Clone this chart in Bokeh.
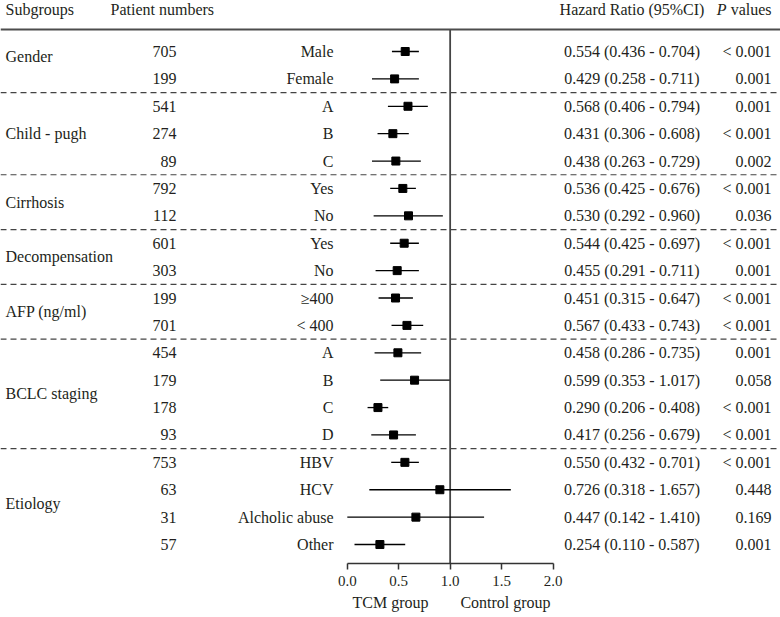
from bokeh.plotting import figure
from bokeh.models import Range1d, Span, FixedTicker, NumeralTickFormatter, ColumnDataSource
from bokeh.layouts import column
from bokeh.core.properties import value
from bokeh.embed import file_html
from bokeh.resources import INLINE

# ---------------- data ----------------
groups = ["Gender", "Child - pugh", "Cirrhosis", "Decompensation", "AFP (ng/ml)", "BCLC staging", "Etiology"]
group_sizes = [2, 3, 2, 2, 2, 4, 4]
group_label_rows = [0.2, 3, 5.5, 7.5, 9.5, 12.5, 16.5]

sub_labels = ["Male", "Female", "A", "B", "C", "Yes", "No", "Yes", "No", "≥400", "< 400",
              "A", "B", "C", "D", "HBV", "HCV", "Alcholic abuse", "Other"]
patients = [705, 199, 541, 274, 89, 792, 112, 601, 303, 199, 701, 454, 179, 178, 93, 753, 63, 31, 57]
hr_text = ["0.554 (0.436 - 0.704)", "0.429 (0.258 - 0.711)", "0.568 (0.406 - 0.794)",
           "0.431 (0.306 - 0.608)", "0.438 (0.263 - 0.729)", "0.536 (0.425 - 0.676)",
           "0.530 (0.292 - 0.960)", "0.544 (0.425 - 0.697)", "0.455 (0.291 - 0.711)",
           "0.451 (0.315 - 0.647)", "0.567 (0.433 - 0.743)", "0.458 (0.286 - 0.735)",
           "0.599 (0.353 - 1.017)", "0.290 (0.206 - 0.408)", "0.417 (0.256 - 0.679)",
           "0.550 (0.432 - 0.701)", "0.726 (0.318 - 1.657)", "0.447 (0.142 - 1.410)",
           "0.254 (0.110 - 0.587)"]
p_text = ["< 0.001", "0.001", "0.001", "< 0.001", "0.002", "< 0.001", "0.036", "< 0.001", "0.001",
          "< 0.001", "< 0.001", "0.001", "0.058", "< 0.001", "< 0.001", "< 0.001", "0.448", "0.169", "0.001"]

# plotted marks
est = [0.563, 0.46, 0.59, 0.443, 0.472, 0.54, 0.595, 0.553, 0.485, 0.469, 0.58,
       0.492, 0.654, 0.298, 0.45, 0.56, 0.90, 0.667, 0.317]
lo = [0.434, 0.24, 0.395, 0.294, 0.24, 0.417, 0.256, 0.417, 0.275, 0.304, 0.43,
      0.265, 0.32, 0.197, 0.233, 0.427, 0.214, 0.0, 0.07]
hi = [0.696, 0.696, 0.783, 0.598, 0.715, 0.667, 0.929, 0.696, 0.696, 0.638, 0.738,
      0.718, 0.995, 0.398, 0.667, 0.696, 1.59, 1.33, 0.563]

ticks = [0.0, 0.5, 1.0, 1.5, 2.0]
ref_value = 1.0
headers = ["Subgroups", "Patient numbers", "Hazard Ratio (95%CI)"]
bottom_labels = ["TCM group", "Control group"]

# ---------------- layout constants ----------------
W = 780
FRAME_H = 563
PXU = 102.85           # pixels per HR unit
X0 = 346.8             # pixel of HR = 0
x_start = -X0 / PXU
x_end = (W - X0) / PXU
ROW = 27.39
ROW0 = 51
n_rows = len(sub_labels)
y_top = -ROW0 / ROW
y_bot = (n_rows - 1) + (FRAME_H - ROW0 - (n_rows - 1) * ROW) / ROW

def px_x(px):
    return (px - X0) / PXU

def px_y(py):
    return (py - ROW0) / ROW

FONT = value("Liberation Serif")
TXT = "#231f20"
FS = "16px"

p = figure(frame_width=W, frame_height=FRAME_H,
           x_range=Range1d(x_start, x_end), y_range=Range1d(y_bot, y_top),
           output_backend="svg", toolbar_location=None, min_border=0,
           y_axis_location=None)
p.outline_line_color = None
p.xgrid.visible = False
p.ygrid.visible = False

ax = p.xaxis[0]
ax.ticker = FixedTicker(ticks=ticks)
ax.formatter = NumeralTickFormatter(format="0.0")
ax.bounds = (min(ticks), max(ticks))
ax.major_tick_out = 6
ax.major_tick_in = 0
ax.minor_tick_out = 0
ax.minor_tick_in = 0
ax.axis_line_color = "#333333"
ax.axis_line_width = 1.5
ax.major_tick_line_color = "#333333"
ax.major_tick_line_width = 1.5
ax.major_label_text_font = "Liberation Serif"
ax.major_label_text_font_size = "15px"
ax.major_label_text_color = TXT
ax.major_label_standoff = 6

rows = list(range(n_rows))
src = ColumnDataSource(dict(y=rows, est=est, lo=lo, hi=hi,
                            n=[str(v) for v in patients], sub=sub_labels,
                            hr=hr_text, pv=p_text))

# separators
top_line_y = px_y(29)
p.add_layout(Span(location=top_line_y, dimension="width", line_color="#4d4d4d", line_width=2))
cum = 0
for s in group_sizes[:-1]:
    cum += s
    p.add_layout(Span(location=cum - 0.5, dimension="width", line_color="#444444",
                      line_width=1.2, line_dash="6 4"))

# reference line
p.segment(x0=[ref_value], y0=[top_line_y], x1=[ref_value], y1=[y_bot],
          line_color="#444444", line_width=1.8)

# CIs and points
p.segment(x0="lo", y0="y", x1="hi", y1="y", source=src, line_color="black", line_width=1.3)
p.scatter(x="est", y="y", source=src, marker="square", size=8,
          fill_color="black", line_color="black")

# text columns
X_N = px_x(176)
X_SUB = px_x(333)
X_HR = px_x(631.5)
X_P = px_x(771)
X_GRP = px_x(5)

common = dict(text_font=FONT, text_font_size=FS, text_color=TXT, text_baseline="middle")
p.text(x=X_N, y="y", text="n", source=src, text_align="right", **common)
p.text(x=X_SUB, y="y", text="sub", source=src, text_align="right", **common)
p.text(x=X_HR, y="y", text="hr", source=src, text_align="center", **common)
p.text(x=X_P, y="y", text="pv", source=src, text_align="right", **common)
p.text(x=[X_GRP] * len(groups), y=group_label_rows, text=groups, text_align="left", **common)

# header
HY = px_y(9)
p.text(x=[X_GRP, px_x(110)], y=[HY, HY], text=headers[:2], text_align="left", **common)
p.text(x=[X_HR], y=[HY], text=[headers[2]], text_align="center", **common)
p.text(x=[X_P], y=[HY], text=["values"], text_align="right", **common)
p.text(x=[X_P - 45 / PXU], y=[HY], text=["P"], text_align="right", text_font_style="italic",
       **common)

# bottom group labels
p2 = figure(frame_width=W, frame_height=25, x_range=p.x_range, y_range=Range1d(0, 1),
            output_backend="svg", toolbar_location=None, min_border=0,
            x_axis_location=None, y_axis_location=None)
p2.outline_line_color = None
p2.xgrid.visible = False
p2.ygrid.visible = False
p2.text(x=[px_x(390), px_x(505)], y=[0.46, 0.46], text=bottom_labels,
        text_align="center", **common)

layout = column(p, p2, spacing=0)
open("out.html", "w").write(file_html(layout, INLINE))
